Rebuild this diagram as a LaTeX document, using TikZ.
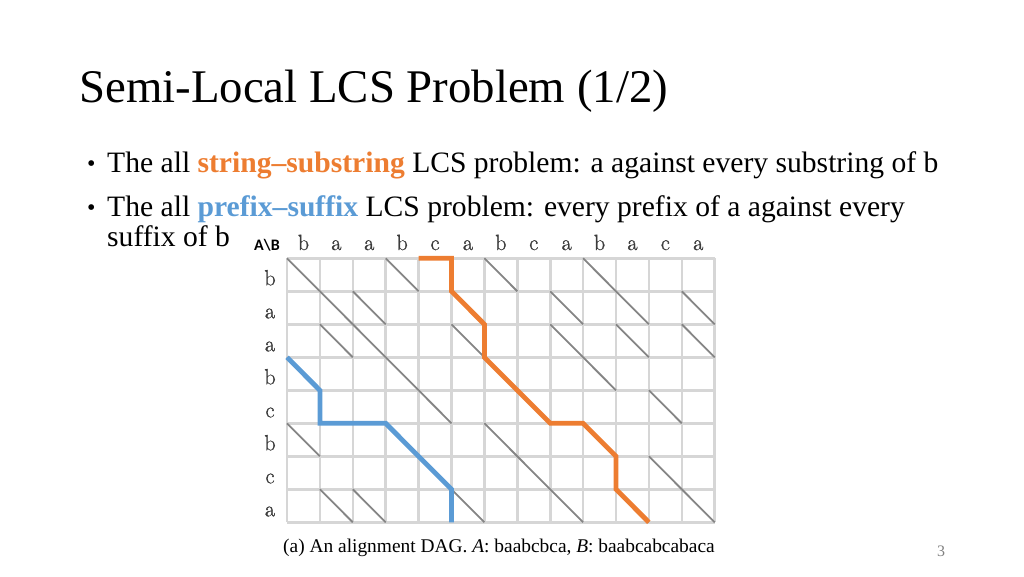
\documentclass[tikz,border=0pt]{standalone}
\usepackage{fontspec}
\setmainfont{Liberation Serif}
\newfontfamily\lmfont[FakeBold=1.2]{Latin Modern Roman}
\newfontfamily\tagfont{Carlito}
\definecolor{lcsorange}{HTML}{ED7D31}
\definecolor{lcsblue}{HTML}{5B9BD5}
\definecolor{gridgray}{HTML}{D6D6D6}
\definecolor{diaggray}{HTML}{858585}
\definecolor{seqgray}{HTML}{3C3C3C}

\begin{document}
\begin{tikzpicture}[x=1pt,y=-1pt,
    gridline/.style={gridgray,line width=2.6pt},
    match/.style={diaggray,line width=1.8pt},
    lcspath/.style={line width=4.8pt},
    seq/.style={anchor=base,inner sep=0pt,seqgray,font=\lmfont\fontsize{22}{22}\selectfont},
    body/.style={anchor=base west,inner sep=0pt,font=\fontsize{29.6}{29.6}\selectfont}
                ]
            \useasboundingbox (0,0) rectangle (1024,576);

            % title and bullets
            \node[anchor=base west,inner sep=0pt,font=\fontsize{46.8}{46.8}\selectfont] (title) at (79,102) {Semi-Local LCS Problem (1/2)};
            \node[body,font=\fontsize{24}{24}\selectfont] (dot1) at (87,171) {•};
            \node[body] (line1) at (107,172) {The all \textbf{\color{lcsorange}string–substring} LCS problem: a against every substring of b};
            \node[body,font=\fontsize{24}{24}\selectfont] (dot2) at (87,215) {•};
            \node[body] (line2) at (107,216) {The all \textbf{\color{lcsblue}prefix–suffix} LCS problem: every prefix of a against every};
            \node[body] (line3) at (107,246) {suffix of b};

            % grid points
            \foreach \i in {0,...,13}
                \foreach \j in {0,...,8}
                    \coordinate (g-\i-\j) at ({287+32.9*\i},{258.3+33*\j});

            \foreach \i in {0,...,13}
                \draw[gridline] (g-\i-0) -- (g-\i-8);
            \foreach \j in {0,...,8}
                \draw[gridline] (g-0-\j) -- (g-13-\j);

            % sequences and matches
            \node[anchor=base,inner sep=0pt,font=\tagfont\bfseries\fontsize{16}{16}\selectfont] (AB) at (267,250) {A\textbackslash B};
            \foreach \cb [count=\j] in {b,a,a,b,c,a,b,c,a,b,a,c,a}
                \node[seq] (B-\j) at ({287+32.9*(\j-0.5)},250) {\cb};
            \foreach \ca [count=\i] in {b,a,a,b,c,b,c,a}
                \node[seq] (A-\i) at (270,{258.3+33*\i-6}) {\ca};

            \foreach \ca [count=\i] in {b,a,a,b,c,b,c,a}
                \foreach \cb [count=\j] in {b,a,a,b,c,a,b,c,a,b,a,c,a} {
                    \ifx\ca\cb
                        \pgfmathtruncatemacro{\ip}{\i-1}
                        \pgfmathtruncatemacro{\jp}{\j-1}
                        \draw[match] (g-\jp-\ip) -- (g-\j-\i);
                    \fi
                };

            % the two paths
            \draw[lcspath,lcsorange] (g-4-0) -- (g-5-0) -- (g-5-1) -- (g-6-2) -- (g-6-3) -- (g-8-5)
                -- (g-9-5) -- (g-10-6) -- (g-10-7) -- (g-11-8);
            \draw[lcspath,lcsblue] (g-0-3) -- (g-1-4) -- (g-1-5) -- (g-3-5) -- (g-5-7) -- (g-5-8);

            \node[anchor=base west,inner sep=0pt,font=\fontsize{19.4}{19.4}\selectfont] (caption) at (283,552) {(a) An alignment DAG. \textit{A}: baabcbca, \textit{B}: baabcabcabaca};
            \node[anchor=base,inner sep=0pt,gray,font=\fontsize{16}{16}\selectfont] (page) at (941,556) {3};

            \end{tikzpicture}
\end{document}
